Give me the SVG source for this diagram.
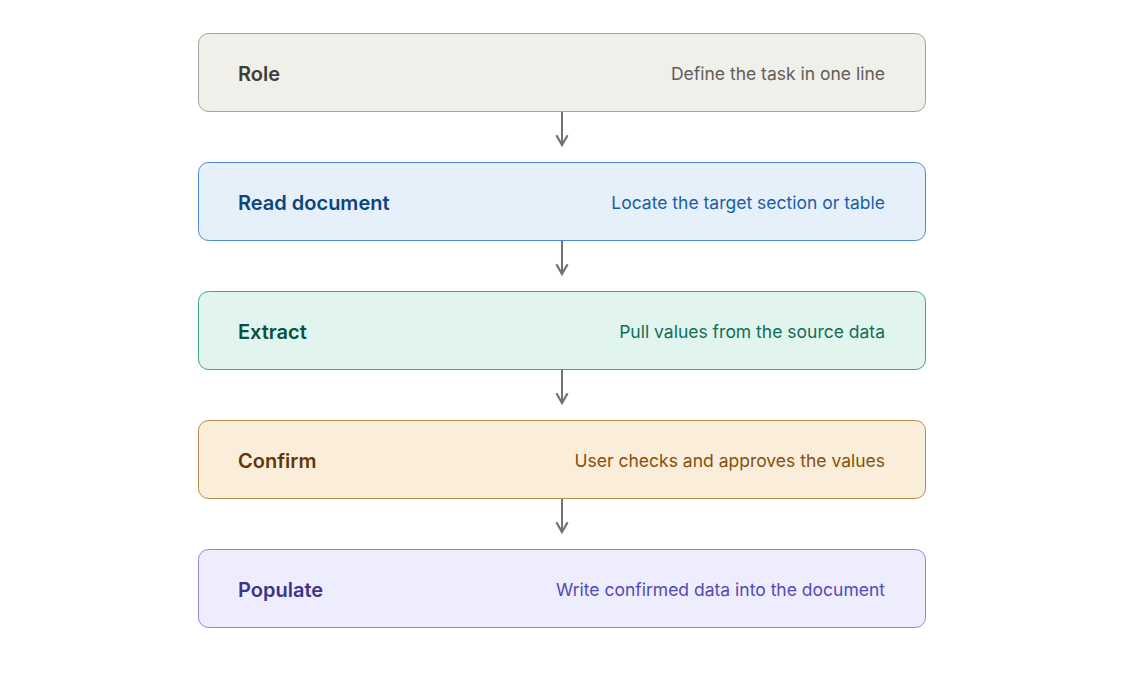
<svg xmlns="http://www.w3.org/2000/svg" width="1124" height="694" viewBox="0 0 1124 694">
<style>
.t{font-family:Inter,"Noto Sans",sans-serif;font-size:20px;font-weight:600}
.d{font-family:Inter,"Noto Sans",sans-serif;font-size:17.5px;text-anchor:end}
.c{stroke:#737373;stroke-width:2;fill:none;marker-end:url(#a)}
</style>
<defs><marker id="a" viewBox="0 0 10 10" refX="8" refY="5" markerWidth="7" markerHeight="7" orient="auto"><path d="M1 1L8 5L1 9" fill="none" stroke="#737373" stroke-width="1.6"/></marker></defs>
<rect width="1124" height="694" fill="#fff"/>
<g id="role"><rect x="198.5" y="33.5" width="727" height="78" rx="10" fill="#f0efea" stroke="#a3a29c"/><text class="t" x="238" y="81" fill="#3d3d3a">Role</text><text class="d" x="885" y="80" fill="#5f5e5a">Define the task in one line</text></g>
<g id="read"><rect x="198.5" y="162.5" width="727" height="78" rx="10" fill="#e6f0fb" stroke="#4a8ad0"/><text class="t" x="238" y="210" fill="#0c447c">Read document</text><text class="d" x="885" y="209" fill="#185fa5">Locate the target section or table</text></g>
<g id="extract"><rect x="198.5" y="291.5" width="727" height="78" rx="10" fill="#e1f5ee" stroke="#3da57f"/><text class="t" x="238" y="339" fill="#085041">Extract</text><text class="d" x="885" y="338" fill="#0f6e56">Pull values from the source data</text></g>
<g id="confirm"><rect x="198.5" y="420.5" width="727" height="78" rx="10" fill="#faeeda" stroke="#b88a4a"/><text class="t" x="238" y="468" fill="#633806">Confirm</text><text class="d" x="885" y="467" fill="#854f0b">User checks and approves the values</text></g>
<g id="populate"><rect x="198.5" y="549.5" width="727" height="78" rx="10" fill="#eeedfe" stroke="#8f86d9"/><text class="t" x="238" y="597" fill="#3c3489">Populate</text><text class="d" x="885" y="596" fill="#534ab7">Write confirmed data into the document</text></g>
<g id="connectors">
<path class="c" d="M562 112V145"/><path class="c" d="M562 241V274"/><path class="c" d="M562 370V403"/><path class="c" d="M562 499V532"/>
</g>
</svg>
